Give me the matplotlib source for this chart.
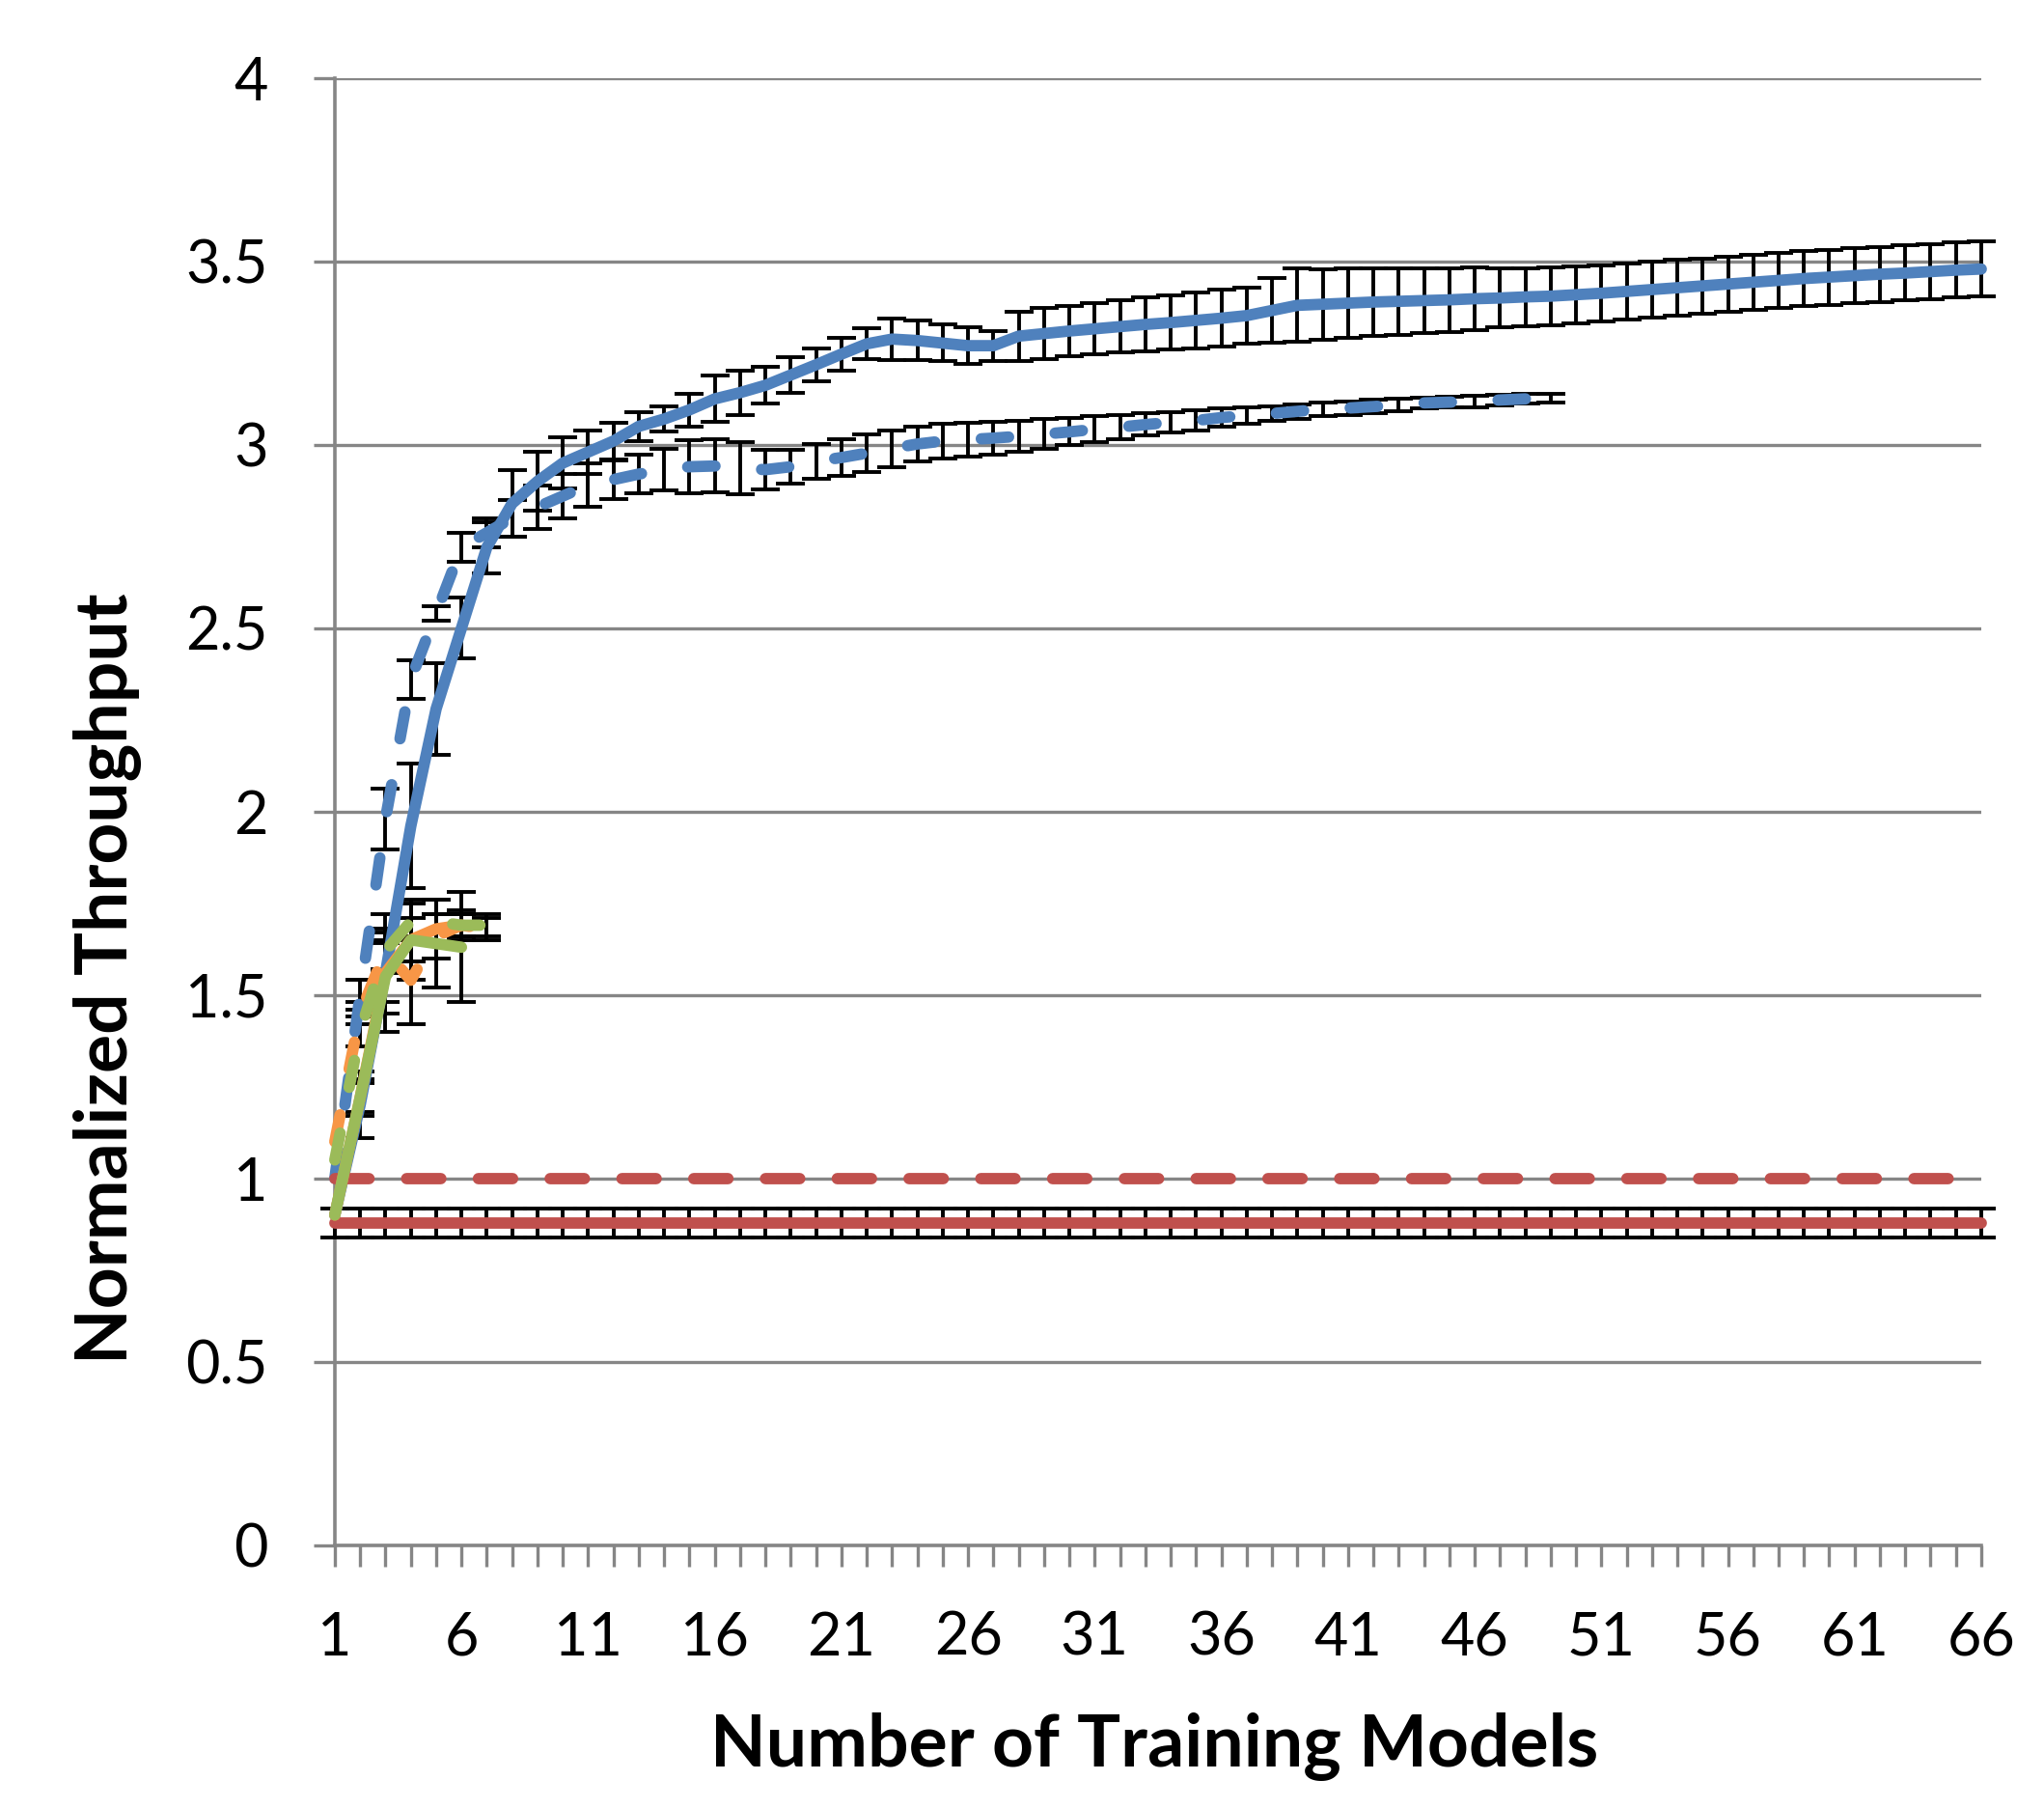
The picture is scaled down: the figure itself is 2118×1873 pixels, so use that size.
import matplotlib
matplotlib.use("Agg")
import matplotlib.pyplot as plt

plt.rcParams['font.family'] = ['Lato', 'DejaVu Sans']

NA = float('nan')  # no error bar drawn at that point

# number of training models (x positions of each series)
models = list(range(1, 67))

# blue, solid - longest run
blue_solid = [0.90, 1.20, 1.56, 1.96, 2.28, 2.50, 2.72, 2.84, 2.90, 2.95,
              2.98, 3.01, 3.05, 3.07, 3.095, 3.125, 3.142, 3.162, 3.19, 3.218,
              3.247, 3.275, 3.288, 3.284, 3.277, 3.27, 3.27, 3.296, 3.303, 3.31,
              3.316, 3.322, 3.328, 3.333, 3.339, 3.345, 3.352, 3.366, 3.38, 3.383,
              3.386, 3.389, 3.391, 3.393, 3.395, 3.398, 3.40, 3.403, 3.405, 3.409,
              3.413, 3.418, 3.423, 3.428, 3.433, 3.438, 3.443, 3.448, 3.453, 3.457,
              3.461, 3.465, 3.468, 3.472, 3.476, 3.479]
blue_solid_err = [NA, 0.09, 0.16, 0.17, 0.125, 0.083, 0.07, 0.09, 0.08, 0.07,
                  0.06, 0.05, 0.04, 0.035, 0.045, 0.063, 0.06, 0.05, 0.048, 0.045,
                  0.044, 0.042, 0.057, 0.054, 0.05, 0.049, 0.041, 0.067, 0.069, 0.068,
                  0.069, 0.071, 0.073, 0.074, 0.077, 0.078, 0.077, 0.088, 0.10, 0.096,
                  0.094, 0.093, 0.091, 0.089, 0.087, 0.086, 0.081, 0.079, 0.079, 0.077,
                  0.076, 0.077, 0.076, 0.076, 0.075, 0.075, 0.075, 0.075, 0.075, 0.075,
                  0.075, 0.075, 0.075, 0.075, 0.075, 0.075]

# blue, dashed
blue_dash = [1.00, 1.50, 1.98, 2.36, 2.54, 2.72, 2.76, 2.80, 2.83, 2.86,
             2.89, 2.905, 2.92, 2.932, 2.94, 2.942, 2.936, 2.932, 2.94, 2.955,
             2.965, 2.977, 2.99, 3.002, 3.01, 3.014, 3.018, 3.023, 3.029, 3.035,
             3.042, 3.048, 3.055, 3.061, 3.066, 3.074, 3.08, 3.085, 3.091, 3.097,
             3.10, 3.104, 3.108, 3.114, 3.116, 3.118, 3.122, 3.125, 3.128]
blue_dash_err = [NA, 0.04, 0.083, 0.053, 0.02, 0.04, 0.04, 0.05, 0.06, 0.06,
                 0.06, 0.053, 0.053, 0.057, 0.072, 0.073, 0.072, 0.053, 0.045, 0.048,
                 0.05, 0.051, 0.05, 0.048, 0.048, 0.047, 0.045, 0.042, 0.041, 0.037,
                 0.036, 0.033, 0.03, 0.028, 0.027, 0.024, 0.022, 0.02, 0.02, 0.019,
                 0.018, 0.018, 0.017, 0.015, 0.015, 0.015, 0.014, 0.013, 0.012]

# red baselines
red_solid = [0.878, 0.878, 0.878, 0.878, 0.878, 0.878, 0.878, 0.878, 0.878, 0.878,
             0.878, 0.878, 0.878, 0.878, 0.878, 0.878, 0.878, 0.878, 0.878, 0.878,
             0.878, 0.878, 0.878, 0.878, 0.878, 0.878, 0.878, 0.878, 0.878, 0.878,
             0.878, 0.878, 0.878, 0.878, 0.878, 0.878, 0.878, 0.878, 0.878, 0.878,
             0.878, 0.878, 0.878, 0.878, 0.878, 0.878, 0.878, 0.878, 0.878, 0.878,
             0.878, 0.878, 0.878, 0.878, 0.878, 0.878, 0.878, 0.878, 0.878, 0.878,
             0.878, 0.878, 0.878, 0.878, 0.878, 0.878]
red_solid_err = [0.04, 0.04, 0.04, 0.04, 0.04, 0.04, 0.04, 0.04, 0.04, 0.04,
                 0.04, 0.04, 0.04, 0.04, 0.04, 0.04, 0.04, 0.04, 0.04, 0.04,
                 0.04, 0.04, 0.04, 0.04, 0.04, 0.04, 0.04, 0.04, 0.04, 0.04,
                 0.04, 0.04, 0.04, 0.04, 0.04, 0.04, 0.04, 0.04, 0.04, 0.04,
                 0.04, 0.04, 0.04, 0.04, 0.04, 0.04, 0.04, 0.04, 0.04, 0.04,
                 0.04, 0.04, 0.04, 0.04, 0.04, 0.04, 0.04, 0.04, 0.04, 0.04,
                 0.04, 0.04, 0.04, 0.04, 0.04, 0.04]
red_dash = [1.0, 1.0, 1.0, 1.0, 1.0, 1.0, 1.0, 1.0, 1.0, 1.0,
            1.0, 1.0, 1.0, 1.0, 1.0, 1.0, 1.0, 1.0, 1.0, 1.0,
            1.0, 1.0, 1.0, 1.0, 1.0, 1.0, 1.0, 1.0, 1.0, 1.0,
            1.0, 1.0, 1.0, 1.0, 1.0, 1.0, 1.0, 1.0, 1.0, 1.0,
            1.0, 1.0, 1.0, 1.0, 1.0, 1.0, 1.0, 1.0, 1.0, 1.0,
            1.0, 1.0, 1.0, 1.0, 1.0, 1.0, 1.0, 1.0, 1.0, 1.0,
            1.0, 1.0, 1.0, 1.0, 1.0, 1.0]

# short runs
orange_solid = [0.90, 1.22, 1.56, 1.65, 1.68, 1.69]
orange_solid_err = [NA, 0.04, 0.08, 0.06, 0.04, 0.03]
orange_dash = [1.10, 1.45, 1.62, 1.54, 1.66, 1.69, 1.68]
orange_dash_err = [NA, 0.03, 0.05, 0.12, 0.06, 0.04, 0.03]
green_solid = [0.90, 1.22, 1.55, 1.65, 1.64, 1.63]
green_solid_err = [NA, 0.05, 0.10, 0.11, 0.12, 0.15]
green_dash = [1.05, 1.40, 1.62, 1.70, 1.70, 1.69, 1.69]
green_dash_err = [NA, 0.04, 0.06, 0.05, 0.06, 0.03, 0.03]

y_ticks = [0, 0.5, 1, 1.5, 2, 2.5, 3, 3.5, 4]
y_tick_labels = ['0', '0.5', '1', '1.5', '2', '2.5', '3', '3.5', '4']

BLUE = '#4F81BD'
RED = '#C0504D'
GREEN = '#9BBB59'
ORANGE = '#F79646'
GRID = '#868686'
DASH = (0, (2.4, 4.1))
RED_DASH = (0, (3.0, 3.3))
LW = 8.5

fig = plt.figure(figsize=(21.18, 18.73), dpi=100)
ax = fig.add_axes([0.1638, 0.1454, 0.8055, 0.8115])

series = [
    (blue_solid, blue_solid_err, BLUE, '-'),
    (blue_dash, blue_dash_err, BLUE, DASH),
    (red_solid, red_solid_err, RED, '-'),
    (red_dash, None, RED, RED_DASH),
    (orange_solid, orange_solid_err, ORANGE, '-'),
    (orange_dash, orange_dash_err, ORANGE, DASH),
    (green_solid, green_solid_err, GREEN, '-'),
    (green_dash, green_dash_err, GREEN, DASH),
]

for k, (vals, err, col, ls) in enumerate(series):
    xs = models[:len(vals)]
    if err is not None:
        ax.errorbar(xs, vals, yerr=err, fmt='none', ecolor='black', elinewidth=2.8,
                    capsize=11, capthick=2.8, zorder=3 + k * 0.1, clip_on=False)
    # excel draws every series line over the error bars
    ax.plot(xs, vals, color=col, lw=LW, linestyle=ls, solid_capstyle='round',
            dash_capstyle='round', solid_joinstyle='round', zorder=4 + k * 0.1,
            clip_on=False)

ax.set_xlim(1, 66)
ax.set_ylim(0, 4)

ax.set_yticks(y_ticks)
ax.set_yticklabels(y_tick_labels)
ax.set_xticks(models)
ax.set_xticklabels([str(m) if (m - 1) % 5 == 0 else '' for m in models])

ax.yaxis.grid(True, color=GRID, lw=2.4, zorder=1)
ax.set_axisbelow(True)
for side in ['top', 'right']:
    ax.spines[side].set_visible(False)
for side in ['left', 'bottom']:
    ax.spines[side].set_color(GRID)
    ax.spines[side].set_linewidth(2.6)

ax.tick_params(axis='both', direction='out', length=16, width=2.4, color=GRID,
               labelsize=44, labelcolor='black')
ax.tick_params(axis='x', pad=33)
ax.tick_params(axis='y', pad=34)

ax.set_xlabel('Number of Training Models', fontsize=54, fontweight='bold')
ax.xaxis.label.set_verticalalignment('baseline')
ax.xaxis.set_label_coords(0.498, -0.151)
ax.set_ylabel('Normalized Throughput', fontsize=54, fontweight='bold')
ax.yaxis.label.set_verticalalignment('center')
ax.yaxis.set_label_coords(-0.138, 0.386)

fig.savefig('out.png', dpi=100, facecolor='white')
